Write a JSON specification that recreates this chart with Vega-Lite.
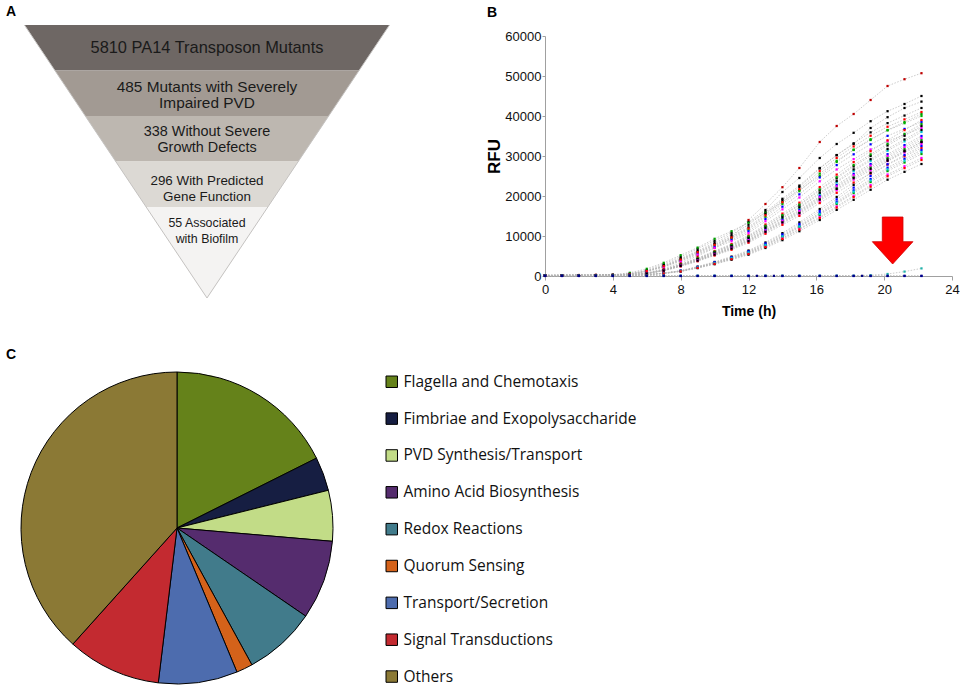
{
"$schema": "https://vega.github.io/schema/vega-lite/v6.json",
"padding": 0,
"background": "white",
"columns": 2,
"spacing": {"row": 60, "column": 75},
"bounds": "flush",
"resolve": {"scale": {"color": "independent", "size": "independent"}, "legend": {"color": "independent"}},
"datasets": {
"funnel": [
{"b":1,"lvl":0,"lo":-1,"hi":1},{"b":1,"lvl":1,"lo":-0.8333,"hi":0.8333},
{"b":2,"lvl":1,"lo":-0.8333,"hi":0.8333},{"b":2,"lvl":2,"lo":-0.6667,"hi":0.6667},
{"b":3,"lvl":2,"lo":-0.6667,"hi":0.6667},{"b":3,"lvl":3,"lo":-0.5,"hi":0.5},
{"b":4,"lvl":3,"lo":-0.5,"hi":0.5},{"b":4,"lvl":4,"lo":-0.3333,"hi":0.3333},
{"b":5,"lvl":4,"lo":-0.3333,"hi":0.3333},{"b":5,"lvl":6,"lo":0,"hi":0}
],
"edge": [{"k":0,"lvl":0,"u":-1},{"k":1,"lvl":6,"u":0},{"k":2,"lvl":0,"u":1}],
"ftext": [
{"b":1,"lvl":0.505,"u":0,"label":["5810 PA14 Transposon Mutants"]},
{"b":2,"lvl":1.363,"u":0,"label":["485 Mutants with Severely","Impaired PVD"]},
{"b":3,"lvl":2.352,"u":0,"label":["338 Without Severe","Growth Defects"]},
{"b":4,"lvl":3.429,"u":0,"label":["296 With Predicted","Gene Function"]},
{"b":5,"lvl":4.352,"u":0,"label":["55 Associated","with Biofilm"]}
],
"arrow": [{"t":20.5,"v":8875}],
"pie": [
{"i":1,"cat":"Flagella and Chemotaxis","n":63.4},
{"i":2,"cat":"Fimbriae and Exopolysaccharide","n":12.6},
{"i":3,"cat":"PVD Synthesis/Transport","n":18.9},
{"i":4,"cat":"Amino Acid Biosynthesis","n":29.5},
{"i":5,"cat":"Redox Reactions","n":26.9},
{"i":6,"cat":"Quorum Sensing","n":6.1},
{"i":7,"cat":"Transport/Secretion","n":29.5},
{"i":8,"cat":"Signal Transductions","n":35.0},
{"i":9,"cat":"Others","n":138.1}
],
"rfu": [
{"s":"r","t":0,"v":200},{"s":"r","t":1,"v":200},{"s":"r","t":2,"v":250},{"s":"r","t":3,"v":300},{"s":"r","t":4,"v":300},{"s":"r","t":5,"v":400},{"s":"r","t":6,"v":800},{"s":"r","t":7,"v":1800},{"s":"r","t":8,"v":3300},{"s":"r","t":9,"v":5000},{"s":"r","t":10,"v":7000},{"s":"r","t":11,"v":9500},{"s":"r","t":12,"v":14000},{"s":"r","t":13,"v":18000},{"s":"r","t":14,"v":22200},{"s":"r","t":15,"v":27000},{"s":"r","t":16.2,"v":33500},{"s":"r","t":17.2,"v":37500},{"s":"r","t":18.2,"v":40500},{"s":"r","t":19.2,"v":44000},{"s":"r","t":20.2,"v":47500},{"s":"r","t":21.2,"v":49200},{"s":"r","t":22.2,"v":50700},
{"s":"k1","t":0,"v":150},{"s":"k1","t":1,"v":150},{"s":"k1","t":2,"v":200},{"s":"k1","t":3,"v":250},{"s":"k1","t":4,"v":300},{"s":"k1","t":5,"v":600},{"s":"k1","t":6,"v":1500},{"s":"k1","t":7,"v":3000},{"s":"k1","t":8,"v":4800},{"s":"k1","t":9,"v":6800},{"s":"k1","t":10,"v":8800},{"s":"k1","t":11,"v":10800},{"s":"k1","t":12,"v":13500},{"s":"k1","t":13,"v":16500},{"s":"k1","t":14,"v":21000},{"s":"k1","t":15,"v":24500},{"s":"k1","t":16.2,"v":29500},{"s":"k1","t":17.2,"v":33000},{"s":"k1","t":18.2,"v":35800},{"s":"k1","t":19.2,"v":38700},{"s":"k1","t":20.2,"v":41200},{"s":"k1","t":21.2,"v":43000},{"s":"k1","t":22.2,"v":45000},
{"s":"k2","t":0,"v":150},{"s":"k2","t":1,"v":150},{"s":"k2","t":2,"v":180},{"s":"k2","t":3,"v":220},{"s":"k2","t":4,"v":280},{"s":"k2","t":5,"v":500},{"s":"k2","t":6,"v":1300},{"s":"k2","t":7,"v":2700},{"s":"k2","t":8,"v":4400},{"s":"k2","t":9,"v":6300},{"s":"k2","t":10,"v":8300},{"s":"k2","t":11,"v":10300},{"s":"k2","t":12,"v":12800},{"s":"k2","t":13,"v":16000},{"s":"k2","t":14,"v":19300},{"s":"k2","t":15,"v":22600},{"s":"k2","t":16.2,"v":27000},{"s":"k2","t":17.2,"v":30200},{"s":"k2","t":18.2,"v":33000},{"s":"k2","t":19.2,"v":37000},{"s":"k2","t":20.2,"v":39700},{"s":"k2","t":21.2,"v":42000},{"s":"k2","t":22.2,"v":43600},
{"s":"g0","t":0,"v":100},{"s":"g0","t":1,"v":120},{"s":"g0","t":2,"v":150},{"s":"g0","t":3,"v":200},{"s":"g0","t":4,"v":300},{"s":"g0","t":5,"v":800},{"s":"g0","t":6,"v":1800},{"s":"g0","t":7,"v":3300},{"s":"g0","t":8,"v":5200},{"s":"g0","t":9,"v":7100},{"s":"g0","t":10,"v":9300},{"s":"g0","t":11,"v":11200},{"s":"g0","t":12,"v":13300},{"s":"g0","t":13,"v":15800},{"s":"g0","t":14,"v":18500},{"s":"g0","t":15,"v":21500},{"s":"g0","t":16.2,"v":25000},{"s":"g0","t":17.2,"v":28500},{"s":"g0","t":18.2,"v":31500},{"s":"g0","t":19.2,"v":34000},{"s":"g0","t":20.2,"v":36500},{"s":"g0","t":21.2,"v":38500},{"s":"g0","t":22.2,"v":40500},
{"s":"u1","t":0,"v":150},{"s":"u1","t":1,"v":150},{"s":"u1","t":2,"v":180},{"s":"u1","t":3,"v":200},{"s":"u1","t":4,"v":250},{"s":"u1","t":5,"v":500},{"s":"u1","t":6,"v":1260},{"s":"u1","t":7,"v":2520},{"s":"u1","t":8,"v":4200},{"s":"u1","t":9,"v":6090},{"s":"u1","t":10,"v":7980},{"s":"u1","t":11,"v":9870},{"s":"u1","t":12,"v":12180},{"s":"u1","t":13,"v":15540},{"s":"u1","t":14,"v":18900},{"s":"u1","t":15,"v":22260},{"s":"u1","t":16.2,"v":26880},{"s":"u1","t":17.2,"v":30240},{"s":"u1","t":18.2,"v":33180},{"s":"u1","t":19.2,"v":35910},{"s":"u1","t":20.2,"v":38220},{"s":"u1","t":21.2,"v":40110},{"s":"u1","t":22.2,"v":42000},
{"s":"u2","t":0,"v":150},{"s":"u2","t":1,"v":150},{"s":"u2","t":2,"v":180},{"s":"u2","t":3,"v":200},{"s":"u2","t":4,"v":250},{"s":"u2","t":5,"v":480},{"s":"u2","t":6,"v":1200},{"s":"u2","t":7,"v":2400},{"s":"u2","t":8,"v":4000},{"s":"u2","t":9,"v":5800},{"s":"u2","t":10,"v":7600},{"s":"u2","t":11,"v":9400},{"s":"u2","t":12,"v":11600},{"s":"u2","t":13,"v":14800},{"s":"u2","t":14,"v":18000},{"s":"u2","t":15,"v":21200},{"s":"u2","t":16.2,"v":25600},{"s":"u2","t":17.2,"v":28800},{"s":"u2","t":18.2,"v":31600},{"s":"u2","t":19.2,"v":34200},{"s":"u2","t":20.2,"v":36400},{"s":"u2","t":21.2,"v":38200},{"s":"u2","t":22.2,"v":40000},
{"s":"u3","t":0,"v":150},{"s":"u3","t":1,"v":150},{"s":"u3","t":2,"v":180},{"s":"u3","t":3,"v":200},{"s":"u3","t":4,"v":250},{"s":"u3","t":5,"v":460},{"s":"u3","t":6,"v":1160},{"s":"u3","t":7,"v":2310},{"s":"u3","t":8,"v":3850},{"s":"u3","t":9,"v":5580},{"s":"u3","t":10,"v":7320},{"s":"u3","t":11,"v":9050},{"s":"u3","t":12,"v":11170},{"s":"u3","t":13,"v":14250},{"s":"u3","t":14,"v":17330},{"s":"u3","t":15,"v":20410},{"s":"u3","t":16.2,"v":24640},{"s":"u3","t":17.2,"v":27720},{"s":"u3","t":18.2,"v":30420},{"s":"u3","t":19.2,"v":32920},{"s":"u3","t":20.2,"v":35040},{"s":"u3","t":21.2,"v":36770},{"s":"u3","t":22.2,"v":38500},
{"s":"u4","t":0,"v":150},{"s":"u4","t":1,"v":150},{"s":"u4","t":2,"v":180},{"s":"u4","t":3,"v":200},{"s":"u4","t":4,"v":250},{"s":"u4","t":5,"v":440},{"s":"u4","t":6,"v":1110},{"s":"u4","t":7,"v":2220},{"s":"u4","t":8,"v":3700},{"s":"u4","t":9,"v":5370},{"s":"u4","t":10,"v":7030},{"s":"u4","t":11,"v":8700},{"s":"u4","t":12,"v":10730},{"s":"u4","t":13,"v":13690},{"s":"u4","t":14,"v":16650},{"s":"u4","t":15,"v":19610},{"s":"u4","t":16.2,"v":23680},{"s":"u4","t":17.2,"v":26640},{"s":"u4","t":18.2,"v":29230},{"s":"u4","t":19.2,"v":31640},{"s":"u4","t":20.2,"v":33670},{"s":"u4","t":21.2,"v":35340},{"s":"u4","t":22.2,"v":37000},
{"s":"m1","t":0,"v":120},{"s":"m1","t":1,"v":130},{"s":"m1","t":2,"v":150},{"s":"m1","t":3,"v":170},{"s":"m1","t":4,"v":200},{"s":"m1","t":5,"v":310},{"s":"m1","t":6,"v":700},{"s":"m1","t":7,"v":1560},{"s":"m1","t":8,"v":2930},{"s":"m1","t":9,"v":4490},{"s":"m1","t":10,"v":6240},{"s":"m1","t":11,"v":8000},{"s":"m1","t":12,"v":10140},{"s":"m1","t":13,"v":12870},{"s":"m1","t":14,"v":15600},{"s":"m1","t":15,"v":18330},{"s":"m1","t":16.2,"v":22230},{"s":"m1","t":17.2,"v":25350},{"s":"m1","t":18.2,"v":28470},{"s":"m1","t":19.2,"v":31200},{"s":"m1","t":20.2,"v":33930},{"s":"m1","t":21.2,"v":36470},{"s":"m1","t":22.2,"v":39000},
{"s":"m2","t":0,"v":120},{"s":"m2","t":1,"v":130},{"s":"m2","t":2,"v":150},{"s":"m2","t":3,"v":170},{"s":"m2","t":4,"v":200},{"s":"m2","t":5,"v":300},{"s":"m2","t":6,"v":680},{"s":"m2","t":7,"v":1500},{"s":"m2","t":8,"v":2810},{"s":"m2","t":9,"v":4310},{"s":"m2","t":10,"v":6000},{"s":"m2","t":11,"v":7690},{"s":"m2","t":12,"v":9750},{"s":"m2","t":13,"v":12380},{"s":"m2","t":14,"v":15000},{"s":"m2","t":15,"v":17630},{"s":"m2","t":16.2,"v":21380},{"s":"m2","t":17.2,"v":24380},{"s":"m2","t":18.2,"v":27380},{"s":"m2","t":19.2,"v":30000},{"s":"m2","t":20.2,"v":32630},{"s":"m2","t":21.2,"v":35060},{"s":"m2","t":22.2,"v":37500},
{"s":"m3","t":0,"v":120},{"s":"m3","t":1,"v":130},{"s":"m3","t":2,"v":150},{"s":"m3","t":3,"v":170},{"s":"m3","t":4,"v":200},{"s":"m3","t":5,"v":290},{"s":"m3","t":6,"v":650},{"s":"m3","t":7,"v":1440},{"s":"m3","t":8,"v":2700},{"s":"m3","t":9,"v":4140},{"s":"m3","t":10,"v":5760},{"s":"m3","t":11,"v":7380},{"s":"m3","t":12,"v":9360},{"s":"m3","t":13,"v":11880},{"s":"m3","t":14,"v":14400},{"s":"m3","t":15,"v":16920},{"s":"m3","t":16.2,"v":20520},{"s":"m3","t":17.2,"v":23400},{"s":"m3","t":18.2,"v":26280},{"s":"m3","t":19.2,"v":28800},{"s":"m3","t":20.2,"v":31320},{"s":"m3","t":21.2,"v":33660},{"s":"m3","t":22.2,"v":36000},
{"s":"m4","t":0,"v":120},{"s":"m4","t":1,"v":130},{"s":"m4","t":2,"v":150},{"s":"m4","t":3,"v":170},{"s":"m4","t":4,"v":200},{"s":"m4","t":5,"v":280},{"s":"m4","t":6,"v":630},{"s":"m4","t":7,"v":1400},{"s":"m4","t":8,"v":2630},{"s":"m4","t":9,"v":4030},{"s":"m4","t":10,"v":5600},{"s":"m4","t":11,"v":7180},{"s":"m4","t":12,"v":9100},{"s":"m4","t":13,"v":11550},{"s":"m4","t":14,"v":14000},{"s":"m4","t":15,"v":16450},{"s":"m4","t":16.2,"v":19950},{"s":"m4","t":17.2,"v":22750},{"s":"m4","t":18.2,"v":25550},{"s":"m4","t":19.2,"v":28000},{"s":"m4","t":20.2,"v":30450},{"s":"m4","t":21.2,"v":32730},{"s":"m4","t":22.2,"v":35000},
{"s":"m5","t":0,"v":120},{"s":"m5","t":1,"v":130},{"s":"m5","t":2,"v":150},{"s":"m5","t":3,"v":170},{"s":"m5","t":4,"v":200},{"s":"m5","t":5,"v":270},{"s":"m5","t":6,"v":610},{"s":"m5","t":7,"v":1360},{"s":"m5","t":8,"v":2550},{"s":"m5","t":9,"v":3910},{"s":"m5","t":10,"v":5440},{"s":"m5","t":11,"v":6970},{"s":"m5","t":12,"v":8840},{"s":"m5","t":13,"v":11220},{"s":"m5","t":14,"v":13600},{"s":"m5","t":15,"v":15980},{"s":"m5","t":16.2,"v":19380},{"s":"m5","t":17.2,"v":22100},{"s":"m5","t":18.2,"v":24820},{"s":"m5","t":19.2,"v":27200},{"s":"m5","t":20.2,"v":29580},{"s":"m5","t":21.2,"v":31790},{"s":"m5","t":22.2,"v":34000},
{"s":"m6","t":0,"v":120},{"s":"m6","t":1,"v":130},{"s":"m6","t":2,"v":150},{"s":"m6","t":3,"v":170},{"s":"m6","t":4,"v":200},{"s":"m6","t":5,"v":260},{"s":"m6","t":6,"v":590},{"s":"m6","t":7,"v":1320},{"s":"m6","t":8,"v":2480},{"s":"m6","t":9,"v":3800},{"s":"m6","t":10,"v":5280},{"s":"m6","t":11,"v":6770},{"s":"m6","t":12,"v":8580},{"s":"m6","t":13,"v":10890},{"s":"m6","t":14,"v":13200},{"s":"m6","t":15,"v":15510},{"s":"m6","t":16.2,"v":18810},{"s":"m6","t":17.2,"v":21450},{"s":"m6","t":18.2,"v":24090},{"s":"m6","t":19.2,"v":26400},{"s":"m6","t":20.2,"v":28710},{"s":"m6","t":21.2,"v":30860},{"s":"m6","t":22.2,"v":33000},
{"s":"m7","t":0,"v":120},{"s":"m7","t":1,"v":130},{"s":"m7","t":2,"v":150},{"s":"m7","t":3,"v":170},{"s":"m7","t":4,"v":200},{"s":"m7","t":5,"v":260},{"s":"m7","t":6,"v":580},{"s":"m7","t":7,"v":1280},{"s":"m7","t":8,"v":2400},{"s":"m7","t":9,"v":3680},{"s":"m7","t":10,"v":5120},{"s":"m7","t":11,"v":6560},{"s":"m7","t":12,"v":8320},{"s":"m7","t":13,"v":10560},{"s":"m7","t":14,"v":12800},{"s":"m7","t":15,"v":15040},{"s":"m7","t":16.2,"v":18240},{"s":"m7","t":17.2,"v":20800},{"s":"m7","t":18.2,"v":23360},{"s":"m7","t":19.2,"v":25600},{"s":"m7","t":20.2,"v":27840},{"s":"m7","t":21.2,"v":29920},{"s":"m7","t":22.2,"v":32000},
{"s":"l1","t":0,"v":100},{"s":"l1","t":1,"v":110},{"s":"l1","t":2,"v":120},{"s":"l1","t":3,"v":130},{"s":"l1","t":4,"v":140},{"s":"l1","t":5,"v":170},{"s":"l1","t":6,"v":340},{"s":"l1","t":7,"v":740},{"s":"l1","t":8,"v":1340},{"s":"l1","t":9,"v":2350},{"s":"l1","t":10,"v":3520},{"s":"l1","t":11,"v":4860},{"s":"l1","t":12,"v":6370},{"s":"l1","t":13,"v":8380},{"s":"l1","t":14,"v":10720},{"s":"l1","t":15,"v":13400},{"s":"l1","t":16.2,"v":16750},{"s":"l1","t":17.2,"v":19770},{"s":"l1","t":18.2,"v":22780},{"s":"l1","t":19.2,"v":25800},{"s":"l1","t":20.2,"v":28810},{"s":"l1","t":21.2,"v":31160},{"s":"l1","t":22.2,"v":33500},
{"s":"l2","t":0,"v":100},{"s":"l2","t":1,"v":110},{"s":"l2","t":2,"v":120},{"s":"l2","t":3,"v":130},{"s":"l2","t":4,"v":140},{"s":"l2","t":5,"v":160},{"s":"l2","t":6,"v":320},{"s":"l2","t":7,"v":690},{"s":"l2","t":8,"v":1260},{"s":"l2","t":9,"v":2210},{"s":"l2","t":10,"v":3310},{"s":"l2","t":11,"v":4570},{"s":"l2","t":12,"v":5990},{"s":"l2","t":13,"v":7880},{"s":"l2","t":14,"v":10080},{"s":"l2","t":15,"v":12600},{"s":"l2","t":16.2,"v":15750},{"s":"l2","t":17.2,"v":18590},{"s":"l2","t":18.2,"v":21420},{"s":"l2","t":19.2,"v":24260},{"s":"l2","t":20.2,"v":27090},{"s":"l2","t":21.2,"v":29300},{"s":"l2","t":22.2,"v":31500},
{"s":"l3","t":0,"v":100},{"s":"l3","t":1,"v":110},{"s":"l3","t":2,"v":120},{"s":"l3","t":3,"v":130},{"s":"l3","t":4,"v":140},{"s":"l3","t":5,"v":150},{"s":"l3","t":6,"v":310},{"s":"l3","t":7,"v":670},{"s":"l3","t":8,"v":1220},{"s":"l3","t":9,"v":2140},{"s":"l3","t":10,"v":3200},{"s":"l3","t":11,"v":4420},{"s":"l3","t":12,"v":5800},{"s":"l3","t":13,"v":7630},{"s":"l3","t":14,"v":9760},{"s":"l3","t":15,"v":12200},{"s":"l3","t":16.2,"v":15250},{"s":"l3","t":17.2,"v":18000},{"s":"l3","t":18.2,"v":20740},{"s":"l3","t":19.2,"v":23490},{"s":"l3","t":20.2,"v":26230},{"s":"l3","t":21.2,"v":28370},{"s":"l3","t":22.2,"v":30500},
{"s":"l4","t":0,"v":100},{"s":"l4","t":1,"v":110},{"s":"l4","t":2,"v":120},{"s":"l4","t":3,"v":130},{"s":"l4","t":4,"v":140},{"s":"l4","t":5,"v":150},{"s":"l4","t":6,"v":300},{"s":"l4","t":7,"v":650},{"s":"l4","t":8,"v":1180},{"s":"l4","t":9,"v":2070},{"s":"l4","t":10,"v":3100},{"s":"l4","t":11,"v":4280},{"s":"l4","t":12,"v":5610},{"s":"l4","t":13,"v":7380},{"s":"l4","t":14,"v":9440},{"s":"l4","t":15,"v":11800},{"s":"l4","t":16.2,"v":14750},{"s":"l4","t":17.2,"v":17410},{"s":"l4","t":18.2,"v":20060},{"s":"l4","t":19.2,"v":22720},{"s":"l4","t":20.2,"v":25370},{"s":"l4","t":21.2,"v":27440},{"s":"l4","t":22.2,"v":29500},
{"s":"l5","t":0,"v":100},{"s":"l5","t":1,"v":110},{"s":"l5","t":2,"v":120},{"s":"l5","t":3,"v":130},{"s":"l5","t":4,"v":140},{"s":"l5","t":5,"v":140},{"s":"l5","t":6,"v":280},{"s":"l5","t":7,"v":620},{"s":"l5","t":8,"v":1120},{"s":"l5","t":9,"v":1960},{"s":"l5","t":10,"v":2940},{"s":"l5","t":11,"v":4060},{"s":"l5","t":12,"v":5320},{"s":"l5","t":13,"v":7000},{"s":"l5","t":14,"v":8960},{"s":"l5","t":15,"v":11200},{"s":"l5","t":16.2,"v":14000},{"s":"l5","t":17.2,"v":16520},{"s":"l5","t":18.2,"v":19040},{"s":"l5","t":19.2,"v":21560},{"s":"l5","t":20.2,"v":24080},{"s":"l5","t":21.2,"v":26040},{"s":"l5","t":22.2,"v":28000},
{"s":"n1","t":0,"v":150},{"s":"n1","t":1,"v":150},{"s":"n1","t":2,"v":180},{"s":"n1","t":3,"v":200},{"s":"n1","t":4,"v":250},{"s":"n1","t":5,"v":490},{"s":"n1","t":6,"v":1230},{"s":"n1","t":7,"v":2460},{"s":"n1","t":8,"v":4100},{"s":"n1","t":9,"v":5950},{"s":"n1","t":10,"v":7790},{"s":"n1","t":11,"v":9640},{"s":"n1","t":12,"v":11890},{"s":"n1","t":13,"v":15170},{"s":"n1","t":14,"v":18450},{"s":"n1","t":15,"v":21730},{"s":"n1","t":16.2,"v":26240},{"s":"n1","t":17.2,"v":29520},{"s":"n1","t":18.2,"v":32390},{"s":"n1","t":19.2,"v":35060},{"s":"n1","t":20.2,"v":37310},{"s":"n1","t":21.2,"v":39160},{"s":"n1","t":22.2,"v":41000},
{"s":"n2","t":0,"v":120},{"s":"n2","t":1,"v":130},{"s":"n2","t":2,"v":150},{"s":"n2","t":3,"v":170},{"s":"n2","t":4,"v":200},{"s":"n2","t":5,"v":300},{"s":"n2","t":6,"v":680},{"s":"n2","t":7,"v":1520},{"s":"n2","t":8,"v":2850},{"s":"n2","t":9,"v":4370},{"s":"n2","t":10,"v":6080},{"s":"n2","t":11,"v":7790},{"s":"n2","t":12,"v":9880},{"s":"n2","t":13,"v":12540},{"s":"n2","t":14,"v":15200},{"s":"n2","t":15,"v":17860},{"s":"n2","t":16.2,"v":21660},{"s":"n2","t":17.2,"v":24700},{"s":"n2","t":18.2,"v":27740},{"s":"n2","t":19.2,"v":30400},{"s":"n2","t":20.2,"v":33060},{"s":"n2","t":21.2,"v":35530},{"s":"n2","t":22.2,"v":38000},
{"s":"n3","t":0,"v":120},{"s":"n3","t":1,"v":130},{"s":"n3","t":2,"v":150},{"s":"n3","t":3,"v":170},{"s":"n3","t":4,"v":200},{"s":"n3","t":5,"v":290},{"s":"n3","t":6,"v":660},{"s":"n3","t":7,"v":1460},{"s":"n3","t":8,"v":2740},{"s":"n3","t":9,"v":4200},{"s":"n3","t":10,"v":5840},{"s":"n3","t":11,"v":7480},{"s":"n3","t":12,"v":9490},{"s":"n3","t":13,"v":12050},{"s":"n3","t":14,"v":14600},{"s":"n3","t":15,"v":17160},{"s":"n3","t":16.2,"v":20810},{"s":"n3","t":17.2,"v":23730},{"s":"n3","t":18.2,"v":26650},{"s":"n3","t":19.2,"v":29200},{"s":"n3","t":20.2,"v":31760},{"s":"n3","t":21.2,"v":34130},{"s":"n3","t":22.2,"v":36500},
{"s":"n4","t":0,"v":120},{"s":"n4","t":1,"v":130},{"s":"n4","t":2,"v":150},{"s":"n4","t":3,"v":170},{"s":"n4","t":4,"v":200},{"s":"n4","t":5,"v":280},{"s":"n4","t":6,"v":620},{"s":"n4","t":7,"v":1380},{"s":"n4","t":8,"v":2590},{"s":"n4","t":9,"v":3970},{"s":"n4","t":10,"v":5520},{"s":"n4","t":11,"v":7070},{"s":"n4","t":12,"v":8970},{"s":"n4","t":13,"v":11390},{"s":"n4","t":14,"v":13800},{"s":"n4","t":15,"v":16220},{"s":"n4","t":16.2,"v":19670},{"s":"n4","t":17.2,"v":22430},{"s":"n4","t":18.2,"v":25190},{"s":"n4","t":19.2,"v":27600},{"s":"n4","t":20.2,"v":30020},{"s":"n4","t":21.2,"v":32260},{"s":"n4","t":22.2,"v":34500},
{"s":"n5","t":0,"v":100},{"s":"n5","t":1,"v":110},{"s":"n5","t":2,"v":120},{"s":"n5","t":3,"v":130},{"s":"n5","t":4,"v":140},{"s":"n5","t":5,"v":160},{"s":"n5","t":6,"v":330},{"s":"n5","t":7,"v":720},{"s":"n5","t":8,"v":1300},{"s":"n5","t":9,"v":2280},{"s":"n5","t":10,"v":3410},{"s":"n5","t":11,"v":4710},{"s":"n5","t":12,"v":6180},{"s":"n5","t":13,"v":8130},{"s":"n5","t":14,"v":10400},{"s":"n5","t":15,"v":13000},{"s":"n5","t":16.2,"v":16250},{"s":"n5","t":17.2,"v":19180},{"s":"n5","t":18.2,"v":22100},{"s":"n5","t":19.2,"v":25030},{"s":"n5","t":20.2,"v":27950},{"s":"n5","t":21.2,"v":30230},{"s":"n5","t":22.2,"v":32500},
{"s":"n6","t":0,"v":100},{"s":"n6","t":1,"v":110},{"s":"n6","t":2,"v":120},{"s":"n6","t":3,"v":130},{"s":"n6","t":4,"v":140},{"s":"n6","t":5,"v":155},{"s":"n6","t":6,"v":310},{"s":"n6","t":7,"v":680},{"s":"n6","t":8,"v":1240},{"s":"n6","t":9,"v":2170},{"s":"n6","t":10,"v":3260},{"s":"n6","t":11,"v":4500},{"s":"n6","t":12,"v":5890},{"s":"n6","t":13,"v":7750},{"s":"n6","t":14,"v":9920},{"s":"n6","t":15,"v":12400},{"s":"n6","t":16.2,"v":15500},{"s":"n6","t":17.2,"v":18290},{"s":"n6","t":18.2,"v":21080},{"s":"n6","t":19.2,"v":23870},{"s":"n6","t":20.2,"v":26660},{"s":"n6","t":21.2,"v":28830},{"s":"n6","t":22.2,"v":31000},
{"s":"n7","t":0,"v":100},{"s":"n7","t":1,"v":110},{"s":"n7","t":2,"v":120},{"s":"n7","t":3,"v":130},{"s":"n7","t":4,"v":140},{"s":"n7","t":5,"v":145},{"s":"n7","t":6,"v":290},{"s":"n7","t":7,"v":640},{"s":"n7","t":8,"v":1160},{"s":"n7","t":9,"v":2030},{"s":"n7","t":10,"v":3050},{"s":"n7","t":11,"v":4210},{"s":"n7","t":12,"v":5510},{"s":"n7","t":13,"v":7250},{"s":"n7","t":14,"v":9280},{"s":"n7","t":15,"v":11600},{"s":"n7","t":16.2,"v":14500},{"s":"n7","t":17.2,"v":17110},{"s":"n7","t":18.2,"v":19720},{"s":"n7","t":19.2,"v":22330},{"s":"n7","t":20.2,"v":24940},{"s":"n7","t":21.2,"v":26970},{"s":"n7","t":22.2,"v":29000},
{"s":"n8","t":0,"v":120},{"s":"n8","t":1,"v":130},{"s":"n8","t":2,"v":150},{"s":"n8","t":3,"v":170},{"s":"n8","t":4,"v":200},{"s":"n8","t":5,"v":270},{"s":"n8","t":6,"v":600},{"s":"n8","t":7,"v":1340},{"s":"n8","t":8,"v":2510},{"s":"n8","t":9,"v":3850},{"s":"n8","t":10,"v":5360},{"s":"n8","t":11,"v":6870},{"s":"n8","t":12,"v":8710},{"s":"n8","t":13,"v":11060},{"s":"n8","t":14,"v":13400},{"s":"n8","t":15,"v":15750},{"s":"n8","t":16.2,"v":19100},{"s":"n8","t":17.2,"v":21780},{"s":"n8","t":18.2,"v":24460},{"s":"n8","t":19.2,"v":26800},{"s":"n8","t":20.2,"v":29150},{"s":"n8","t":21.2,"v":31320},{"s":"n8","t":22.2,"v":33500},
{"s":"c","t":0,"v":80},{"s":"c","t":1,"v":80},{"s":"c","t":2,"v":80},{"s":"c","t":3,"v":80},{"s":"c","t":4,"v":80},{"s":"c","t":5,"v":80},{"s":"c","t":6,"v":80},{"s":"c","t":7,"v":80},{"s":"c","t":8,"v":80},{"s":"c","t":9,"v":80},{"s":"c","t":10,"v":80},{"s":"c","t":11,"v":80},{"s":"c","t":12,"v":80},{"s":"c","t":13,"v":80},{"s":"c","t":14,"v":80},{"s":"c","t":15,"v":80},{"s":"c","t":16.2,"v":80},{"s":"c","t":17.2,"v":80},{"s":"c","t":18.2,"v":80},{"s":"c","t":19.2,"v":200},{"s":"c","t":20.2,"v":500},{"s":"c","t":21.2,"v":1100},{"s":"c","t":22.2,"v":1900},
{"s":"f1","t":0,"v":0},{"s":"f1","t":1,"v":0},{"s":"f1","t":2,"v":0},{"s":"f1","t":3,"v":0},{"s":"f1","t":4,"v":0},{"s":"f1","t":5,"v":0},{"s":"f1","t":6,"v":0},{"s":"f1","t":7,"v":0},{"s":"f1","t":8,"v":0},{"s":"f1","t":9,"v":0},{"s":"f1","t":10,"v":0},{"s":"f1","t":11,"v":0},{"s":"f1","t":12,"v":0},{"s":"f1","t":13,"v":0},{"s":"f1","t":14,"v":0},{"s":"f1","t":15,"v":0},{"s":"f1","t":16.2,"v":0},{"s":"f1","t":17.2,"v":0},{"s":"f1","t":18.2,"v":0},{"s":"f1","t":19.2,"v":0},{"s":"f1","t":20.2,"v":0},{"s":"f1","t":21.2,"v":0},{"s":"f1","t":22.2,"v":0},
{"s":"f2","t":0,"v":40},{"s":"f2","t":1,"v":40},{"s":"f2","t":2,"v":40},{"s":"f2","t":3,"v":40},{"s":"f2","t":4,"v":40},{"s":"f2","t":5,"v":40},{"s":"f2","t":6,"v":40},{"s":"f2","t":7,"v":40},{"s":"f2","t":8,"v":40},{"s":"f2","t":9,"v":40},{"s":"f2","t":10,"v":40},{"s":"f2","t":11,"v":40},{"s":"f2","t":12,"v":40},{"s":"f2","t":12.5,"v":40},{"s":"f2","t":13,"v":40},{"s":"f2","t":13.5,"v":40},{"s":"f2","t":14,"v":40},{"s":"f2","t":15,"v":40},{"s":"f2","t":16.2,"v":40},{"s":"f2","t":17.2,"v":40},{"s":"f2","t":18.2,"v":40},{"s":"f2","t":18.7,"v":40},{"s":"f2","t":19.2,"v":40},{"s":"f2","t":20.2,"v":40},{"s":"f2","t":21.2,"v":40},{"s":"f2","t":22.2,"v":40}
]
},
"concat": [
{
"width": 470, "height": 300,
"title": {"text": "A", "anchor": "start", "frame": "group", "offset": 0, "dx": 6, "dy": 30, "baseline": "alphabetic", "fontSize": 14, "fontWeight": "bold", "font": "Liberation Sans", "color": "#000000"},
"layer": [
{"data": {"name": "funnel"},
 "mark": {"type": "area", "orient": "horizontal", "opacity": 1},
 "encoding": {
  "y": {"field": "lvl", "type": "quantitative", "scale": {"domain": [-0.5495, 6.044], "reverse": true, "nice": false, "zero": false}, "axis": null},
  "x": {"field": "lo", "type": "quantitative", "scale": {"domain": [-1.1342, 1.4411], "nice": false, "zero": false}, "axis": null},
  "x2": {"field": "hi"},
  "color": {"field": "b", "type": "nominal", "scale": {"domain": [1, 2, 3, 4, 5], "range": ["#6e6764", "#a29a93", "#bdb7b0", "#dcd9d4", "#f4f3f2"]}, "legend": null}
 }},
{"data": {"name": "edge"},
 "mark": {"type": "line", "color": "#c4c2c0", "strokeWidth": 1},
 "encoding": {
  "x": {"field": "u", "type": "quantitative"},
  "y": {"field": "lvl", "type": "quantitative"},
  "order": {"field": "k", "type": "quantitative"}
 }},
{"data": {"name": "ftext"},
 "mark": {"type": "text", "font": "Liberation Sans", "color": "#1a1a1a", "lineHeight": 16, "baseline": "middle", "align": "center"},
 "encoding": {
  "x": {"field": "u", "type": "quantitative"},
  "y": {"field": "lvl", "type": "quantitative"},
  "text": {"field": "label", "type": "nominal"},
  "size": {"field": "b", "type": "ordinal", "scale": {"domain": [1, 2, 3, 4, 5], "range": [16.4, 12.4, 12.4, 11.2, 11.4]}, "legend": null}
 }}
]
},
{
"width": 407, "height": 276,
"title": {"text": "B", "anchor": "start", "frame": "group", "offset": 0, "dx": -58, "dy": 31, "baseline": "alphabetic", "fontSize": 14, "fontWeight": "bold", "font": "Liberation Sans", "color": "#000000"},
"layer": [
{"data": {"name": "rfu"},
 "mark": {"type": "line", "color": "#b4b4b4", "strokeWidth": 0.7, "strokeDash": [1.5, 1.5]},
 "encoding": {
  "x": {"field": "t", "type": "quantitative", "scale": {"domain": [0, 24], "nice": false, "zero": false},
   "axis": {"values": [0, 4, 8, 12, 16, 20, 24], "title": "Time (h)", "titleFontSize": 14, "titleFontWeight": "bold", "titlePadding": 8, "labelFontSize": 13, "tickSize": 4, "labelPadding": 3, "labelFlush": false, "grid": false}},
  "y": {"field": "v", "type": "quantitative", "scale": {"domain": [0, 60000], "range": [276, 36], "nice": false},
   "axis": {"values": [0, 10000, 20000, 30000, 40000, 50000, 60000], "format": "d", "title": "RFU", "titleFontSize": 17, "titleFontWeight": "bold", "titlePadding": 1, "labelFontSize": 13, "tickSize": 3, "labelPadding": 1, "grid": false}},
  "detail": {"field": "s", "type": "nominal"}
 }},
{"data": {"name": "rfu"},
 "mark": {"type": "point", "shape": "square", "filled": true, "size": 5, "opacity": 1},
 "encoding": {
  "x": {"field": "t", "type": "quantitative"},
  "y": {"field": "v", "type": "quantitative"},
  "color": {"field": "s", "type": "nominal", "legend": null,
   "scale": {"domain": ["r","k1","k2","g0","u1","u2","u3","u4","m1","m2","m3","m4","m5","m6","m7","l1","l2","l3","l4","l5","n1","n2","n3","n4","n5","n6","n7","n8","c","f1","f2"],
    "range": ["#c00000","#000000","#000000","#00a000","#000000","#00b000","#0000ff","#ff00ff","#ff0000","#000000","#00cccc","#0000ff","#00a000","#ff00ff","#ff0000","#000000","#0000ff","#00a000","#ff00ff","#000000","#ff0000","#00a000","#000000","#ff00ff","#0000ff","#00cccc","#ff0000","#000000","#20b2aa","#0000cc","#000080"]}}
 }},
{"data": {"name": "arrow"},
 "mark": {"type": "point", "shape": "M-0.44,-1L0.44,-1L0.44,0.05L0.864,0.05L0,1L-0.864,0.05L-0.44,0.05Z", "filled": true, "color": "#ff0000", "size": 2209, "opacity": 1, "stroke": "#d00000", "strokeWidth": 0.8},
 "encoding": {
  "x": {"field": "t", "type": "quantitative"},
  "y": {"field": "v", "type": "quantitative"}
 }}
]
},
{
"width": 354, "height": 336,
"title": {"text": "C", "anchor": "start", "frame": "group", "offset": 0, "dx": 6, "dy": 13, "baseline": "alphabetic", "fontSize": 14, "fontWeight": "bold", "font": "Liberation Sans", "color": "#000000"},
"data": {"name": "pie"},
"mark": {"type": "arc", "outerRadius": 156, "stroke": "#000000", "strokeWidth": 1},
"encoding": {
 "theta": {"field": "n", "type": "quantitative", "stack": true},
 "order": {"field": "i", "type": "quantitative"},
 "color": {"field": "cat", "type": "nominal",
  "scale": {"domain": ["Flagella and Chemotaxis","Fimbriae and Exopolysaccharide","PVD Synthesis/Transport","Amino Acid Biosynthesis","Redox Reactions","Quorum Sensing","Transport/Secretion","Signal Transductions","Others"],
   "range": ["#65821a","#161e42","#c2dc87","#552c6e","#417b8b","#d4621a","#4d6cae","#c32a30","#8b7935"]},
  "legend": {"orient": "none", "legendX": 384, "legendY": 14, "title": null, "symbolType": "square", "symbolSize": 132, "symbolStrokeColor": "#000000", "symbolStrokeWidth": 1, "symbolOpacity": 1, "labelFont": "Open Sans", "labelFontSize": 15.5, "labelColor": "#111111", "rowPadding": 19.85, "labelOffset": 4, "labelLimit": 400, "padding": 0}}
}
}
],
"config": {
 "view": {"stroke": null},
 "font": "Liberation Sans",
 "axis": {"domainColor": "#a0a0a0", "tickColor": "#a0a0a0", "labelColor": "#111111", "titleColor": "#000000", "labelFont": "Liberation Sans", "titleFont": "Liberation Sans"}
}
}
